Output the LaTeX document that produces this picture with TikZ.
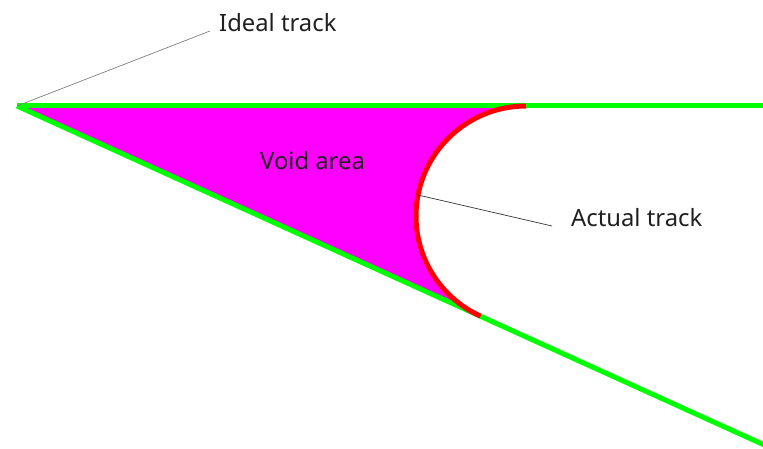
\documentclass[tikz,border=0pt]{standalone}
\usepackage{fontspec}
\setmainfont{Noto Sans}
\usetikzlibrary{calc}

\definecolor{trackgreen}{RGB}{0,255,0}
\definecolor{voidmagenta}{RGB}{255,0,255}
\definecolor{arcred}{RGB}{255,0,0}

\begin{document}
\begin{tikzpicture}[x=1pt, y=1pt,
    ideal/.style={line width=5pt, trackgreen},
    actual/.style={line width=5pt, arcred},
    leader/.style={line width=0.7pt},
    label/.style={inner sep=0pt, anchor=base west, font=\fontsize{23.8}{28}\selectfont, text=black!88}]
    \useasboundingbox (0,0) rectangle (763,448);
    % Geometry: apex, bend centre and tangent points
    \coordinate (apex) at (17,342);
    \coordinate (centre) at (526,232);
    \coordinate (ttop) at (526,342);
    \coordinate (tlow) at ($(centre)+(245.6:110)$);
    \coordinate (topend) at (763,342);
    \coordinate (lowend) at ($(apex)+(-24.4:830)$);
    % Void area
    \fill[voidmagenta] (apex) -- (ttop) arc[start angle=90, end angle=245.6, radius=110] -- cycle;
    % Ideal track
    \draw[ideal] (apex) -- (topend);
    \draw[ideal] (apex) -- (lowend);
    % Actual track
    \draw[actual] (ttop) arc[start angle=90, end angle=245.6, radius=110];
    % Labels
    \node[label] (lideal) at (219,416) {Ideal track};
    \node[label] (lvoid) at (260,279) {Void area};
    \node[label] (lactual) at (571,222) {Actual track};
    \coordinate (arcpt) at ($(centre)+(169:110)$);
    \draw[leader, black!50] (apex) -- ([xshift=-9pt, yshift=1pt]lideal.base west);
    \draw[leader, black!80] (arcpt) -- ([xshift=-19pt]lactual.base west);
\end{tikzpicture}
\end{document}
